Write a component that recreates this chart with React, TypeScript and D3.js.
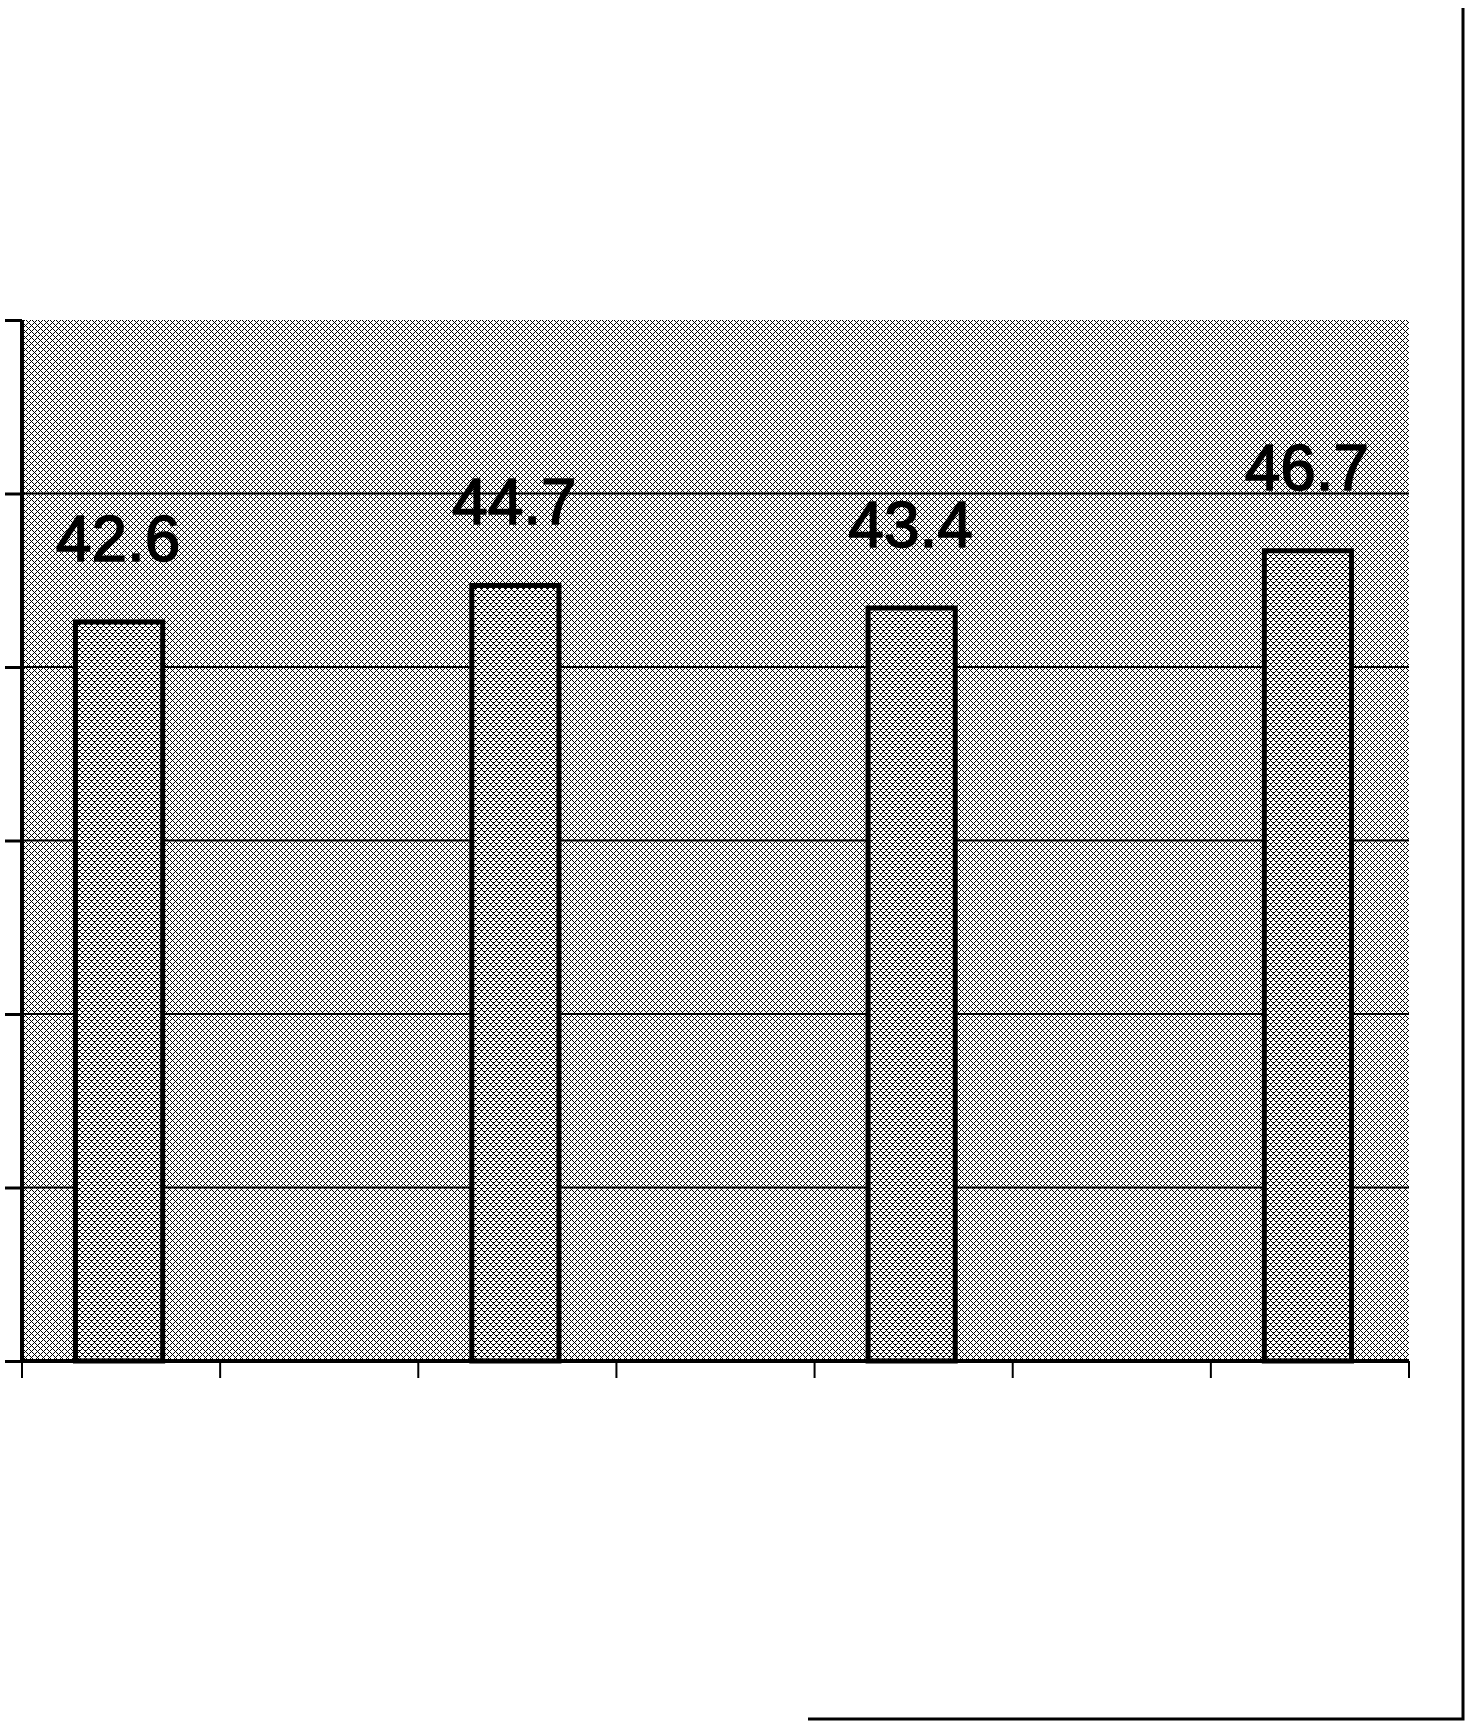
import { useEffect, useRef } from 'react';
import * as d3 from 'd3';

// 7 category slots, only every other one carries a bar
const categories = ['c1', 'c2', 'c3', 'c4', 'c5', 'c6', 'c7'];
const values: (number | null)[] = [42.6, null, 44.7, null, 43.4, null, 46.7];
const yTicks = [0, 10, 20, 30, 40, 50, 60];

const W = 1472;
const H = 1728;

const App: React.FC = () => {
  const svgRef = useRef<SVGSVGElement>(null);

  useEffect(() => {
    if (!svgRef.current) return;
    const svg = d3.select(svgRef.current);
    svg.selectAll('*').remove();

    const left = 22;
    const right = 1409;
    const top = 320;
    const bottom = 1361;

    const x = d3.scaleBand<string>().domain(categories).range([left, right]).padding(0);
    const y = d3.scaleLinear().domain([0, 60]).range([bottom, top]);

    // dither patterns
    const defs = svg.append('defs');
    const bgPat = defs.append('pattern')
      .attr('id', 'bgdots')
      .attr('patternUnits', 'userSpaceOnUse')
      .attr('width', 6)
      .attr('height', 6);
    bgPat.append('rect').attr('width', 6).attr('height', 6).attr('fill', '#fff');
    [[0, 0], [2, 0], [1, 1], [0, 2], [2, 2], [3, 3], [5, 3], [4, 4], [3, 5], [5, 5]].forEach(([px, py]) => {
      bgPat.append('rect').attr('x', px).attr('y', py).attr('width', 1).attr('height', 1).attr('fill', '#000');
    });

    const barPat = defs.append('pattern')
      .attr('id', 'bardots')
      .attr('patternUnits', 'userSpaceOnUse')
      .attr('width', 6)
      .attr('height', 6);
    barPat.append('rect').attr('width', 6).attr('height', 6).attr('fill', '#fff');
    [[0, 0], [1, 0], [2, 0], [1, 1], [0, 2], [2, 2], [3, 3], [4, 3], [5, 3], [4, 4], [3, 5], [5, 5]].forEach(([px, py]) => {
      barPat.append('rect').attr('x', px).attr('y', py).attr('width', 1).attr('height', 1).attr('fill', '#000');
    });

    // plot area
    svg.append('rect')
      .attr('x', left)
      .attr('y', top)
      .attr('width', right - left)
      .attr('height', bottom - top)
      .attr('fill', 'url(#bgdots)')
      .attr('shape-rendering', 'crispEdges');

    // gridlines
    svg.selectAll('.grid')
      .data(yTicks.filter(t => t > 0 && t < 60))
      .enter()
      .append('line')
      .attr('class', 'grid')
      .attr('x1', left)
      .attr('x2', right)
      .attr('y1', d => y(d))
      .attr('y2', d => y(d))
      .attr('stroke', '#000')
      .attr('stroke-width', 2);

    // bars
    const barW = x.bandwidth() * 0.44;
    const data = categories.map((c, i) => ({ c, v: values[i] })).filter(d => d.v !== null) as { c: string; v: number }[];

    svg.selectAll('.bar')
      .data(data)
      .enter()
      .append('rect')
      .attr('class', 'bar')
      .attr('x', d => (x(d.c) as number) + x.bandwidth() / 2 - barW / 2 - 2)
      .attr('y', d => y(d.v))
      .attr('width', barW)
      .attr('height', d => y(0) - y(d.v))
      .attr('fill', 'url(#bardots)')
      .attr('stroke', '#000')
      .attr('stroke-width', 5);

    // value labels
    svg.selectAll('.lbl')
      .data(data)
      .enter()
      .append('text')
      .attr('class', 'lbl')
      .attr('x', d => (x(d.c) as number) + x.bandwidth() / 2 - 3)
      .attr('y', d => y(d.v) - 61)
      .attr('text-anchor', 'middle')
      .style('font-family', 'Arial, "Liberation Sans", sans-serif')
      .style('font-size', '64px')
      .attr('fill', '#000')
      .attr('stroke', '#000')
      .attr('stroke-width', 1.5)
      .text(d => d.v.toFixed(1));

    // y axis
    const yAxis = d3.axisLeft(y).tickValues(yTicks).tickSize(17).tickFormat(() => '');
    const yg = svg.append('g').attr('transform', `translate(${left},0)`).call(yAxis);
    yg.select('.domain').attr('stroke-width', 4).attr('d', `M0,${top}V${bottom}`);
    yg.selectAll('.tick line').attr('stroke-width', 3);

    // x axis, ticks at category boundaries
    const boundaries = categories.map(c => x(c) as number).concat([right]);
    const xg = svg.append('g');
    xg.append('line')
      .attr('x1', left)
      .attr('x2', right)
      .attr('y1', bottom)
      .attr('y2', bottom)
      .attr('stroke', '#000')
      .attr('stroke-width', 4);
    xg.selectAll('.xt')
      .data(boundaries)
      .enter()
      .append('line')
      .attr('class', 'xt')
      .attr('x1', d => d)
      .attr('x2', d => d)
      .attr('y1', bottom)
      .attr('y2', bottom + 17)
      .attr('stroke', '#000')
      .attr('stroke-width', 2);

    // page frame corner
    svg.append('path')
      .attr('d', `M1463,8V1719H808`)
      .attr('fill', 'none')
      .attr('stroke', '#000')
      .attr('stroke-width', 3);
  }, []);

  return (
    <svg
      ref={svgRef}
      width={W}
      height={H}
      style={{ position: 'absolute', left: 0, top: 0, display: 'block', background: '#fff' }}
    />
  );
};

export default App;
